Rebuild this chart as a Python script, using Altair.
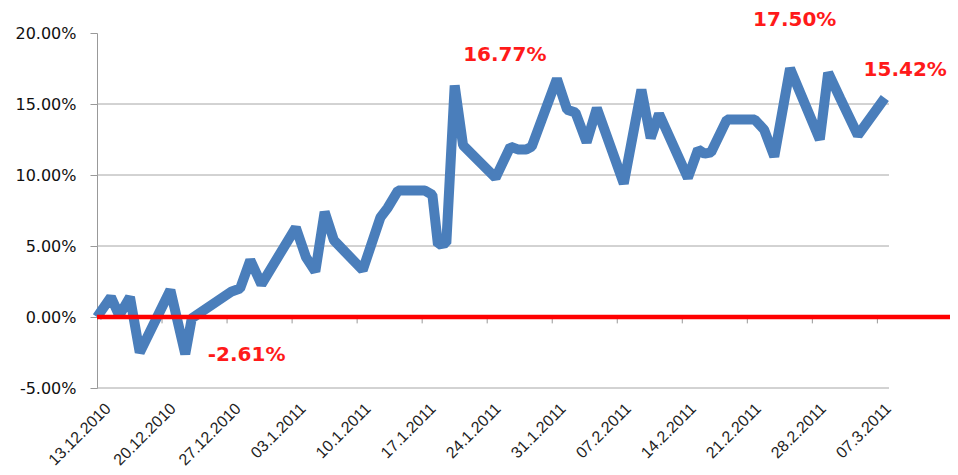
import altair as alt
import pandas as pd

# days since 13.12.2010 and cumulative return in percent
day_offset = [0, 1.5, 2.4, 3.55, 4.6, 7.9, 9.5, 10.2, 14.5, 15.4, 16.5, 17.7,
              21.4, 22.5, 23.5, 24.5, 25.5, 28.6, 30.5, 31.3, 32.4, 35.3, 36.1,
              36.7, 37.6, 38.5, 39.4, 42.9, 44.5, 45.3, 46.2, 46.8, 49.5, 50.6,
              51.5, 52.7, 53.8, 56.7, 58.6, 59.6, 60.5, 63.6, 64.7, 65.4, 66.1,
              67.8, 70.8, 71.8, 72.9, 74.6, 77.8, 78.7, 80.0, 81.9, 84.8]
pct_values = [0.0, 1.4, 0.1, 1.4, -2.5, 1.9, -2.61, -0.1, 1.8, 2.0, 4.0, 2.3,
              6.3, 4.2, 3.2, 7.4, 5.4, 3.3, 7.0, 7.7, 8.9, 8.9, 8.6,
              5.1, 5.2, 16.3, 12.1, 9.8, 12.0, 11.8, 11.8, 12.0, 16.77, 14.6,
              14.4, 12.3, 14.7, 9.4, 16.0, 12.6, 14.3, 9.8, 11.8, 11.5, 11.6,
              13.9, 13.9, 13.2, 11.3, 17.5, 12.5, 17.2, 15.4, 12.8, 15.42]

week_labels = ["13.12.2010", "20.12.2010", "27.12.2010", "03.1.2011", "10.1.2011",
               "17.1.2011", "24.1.2011", "31.1.2011", "07.2.2011", "14.2.2011",
               "21.2.2011", "28.2.2011", "07.3.2011"]
week_ticks = [0, 7, 14, 21, 28, 35, 42, 49, 56, 63, 70, 77, 84]
y_ticks = [-5, 0, 5, 10, 15, 20]
grid_levels = [-5, 5, 10, 15]
zero_level = [0]

note_texts = ["16.77%", "17.50%", "15.42%", "-2.61%"]
note_day = [43.9, 75.1, 87.0, 16.1]
note_value = [18.45, 20.9, 17.4, -2.68]

df = pd.DataFrame({"day": day_offset, "pct": pct_values})
notes = pd.DataFrame({"day": note_day, "pct": note_value, "txt": note_texts})
ticks_df = pd.DataFrame({"day": week_ticks[1:], "pct": [0.0] * 12, "bot": [-0.45] * 12})
grid_df = pd.DataFrame({"pct": grid_levels})
zero_df = pd.DataFrame({"pct": zero_level})

x_scale = alt.Scale(domain=[0, 85.25], nice=False, zero=False)
y_scale = alt.Scale(domain=[-5, 20], nice=False)

x_label_expr = "[" + ",".join(f"'{l}'" for l in week_labels) + "][round(datum.value / 7)]"
y_label_expr = "(datum.value < 0 ? '-' : '') + format(abs(datum.value), '.2f') + '%'"

x_axis = alt.Axis(values=week_ticks, labelExpr=x_label_expr, labelAngle=-45,
                  labelAlign="right", labelBaseline="top", labelPadding=12,
                  labelOffset=5, ticks=False, domain=False, grid=False, title=None,
                  labelFont="Liberation Sans", labelFontSize=16, labelColor="#222222",
                  labelOverlap=False, labelFlush=False)
y_axis = alt.Axis(values=y_ticks, labelExpr=y_label_expr, grid=False,
                  domainColor="#999999", tickColor="#999999", tickSize=7,
                  labelPadding=14, labelFont="DejaVu Sans", labelFontSize=16,
                  labelColor="#111111", title=None)

X = alt.X("day:Q", scale=x_scale, axis=x_axis)
Y = alt.Y("pct:Q", scale=y_scale, axis=y_axis)

grid = alt.Chart(grid_df).mark_rule(color="#a6a6a6", strokeWidth=1).encode(y=Y)

zero_ticks = alt.Chart(ticks_df).mark_rule(color="#999999", strokeWidth=1).encode(
    x=X, y=Y, y2="bot:Q")

line = alt.Chart(df).mark_line(
    color="#4a7ebb", strokeWidth=10, strokeJoin="bevel", strokeCap="butt"
).encode(x=X, y=Y)

zero_line = alt.Chart(zero_df).mark_rule(
    color="#ff0000", strokeWidth=4.5, clip=False
).encode(y=Y, x=alt.value(0), x2=alt.value(870))

labels = alt.Chart(notes).mark_text(
    color="#ff1a1a", font="DejaVu Sans", fontWeight="bold", fontSize=20,
    align="center", baseline="middle"
).encode(x=X, y=Y, text="txt:N")

chart = alt.layer(grid, zero_ticks, line, zero_line, labels).properties(
    width=792, height=355,
    padding={"left": 89, "top": 25, "right": 61, "bottom": 79},
    autosize=alt.AutoSizeParams(type="none"),
    background="white",
).configure_view(stroke=None)

chart.save("out.html", embed_options={"renderer": "svg", "actions": False})
